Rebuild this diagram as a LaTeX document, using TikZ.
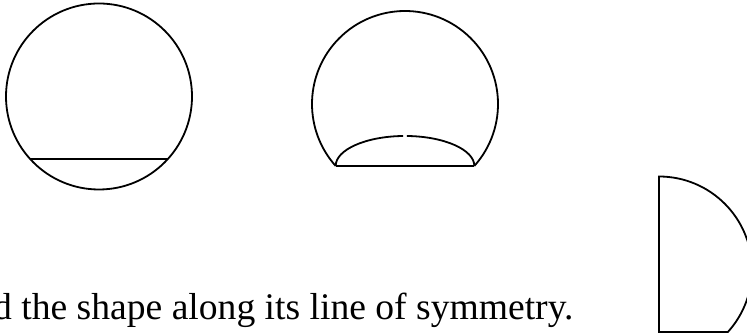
\documentclass[tikz,border=0pt]{standalone}
\usepackage{fontspec}
\setmainfont{Liberation Serif}
\usetikzlibrary{calc,positioning}

\begin{document}
\begin{tikzpicture}[
    x=1pt, y=1pt,
    outline/.style={draw, line width=1.8pt},
    caption/.style={font=\fontsize{37.6}{40}\selectfont, inner sep=0pt, anchor=base west}
]
    \useasboundingbox (0,0) rectangle (747,336);
    \clip (0,0) rectangle (747,336);

    % Circle with a chord
    \coordinate (cA) at (99,239.5);
    \draw[outline] (cA) circle (93);
    \draw[outline] ($(cA)+(-137.8:93)$) -- ($(cA)+(-42.2:93)$);

    % Circle with the segment folded in
    \coordinate (cB) at (405,232);
    \coordinate (leftB) at ($(cB)+(-138.2:93)$);
    \coordinate (rightB) at ($(cB)+(-41.8:93)$);
    \draw[outline] (rightB) arc (-41.8:221.8:93);
    \draw[outline] (leftB) -- (rightB);
    \draw[outline] (leftB) arc[start angle=180, end angle=91.6, x radius=69.3, y radius=30];
    \draw[outline] (rightB) arc[start angle=0, end angle=88.4, x radius=69.3, y radius=30];

    % Half of the shape
    \coordinate (cC) at (659,66.5);
    \draw[outline] ($(cC)+(90:93)$) arc (90:-42.2:93) -- ($(cC)+(0,-62.5)$) -- cycle;

    % Caption
    \node[caption] (txt) at (-7,16) {d the shape along its line of symmetry.};
\end{tikzpicture}
\end{document}
